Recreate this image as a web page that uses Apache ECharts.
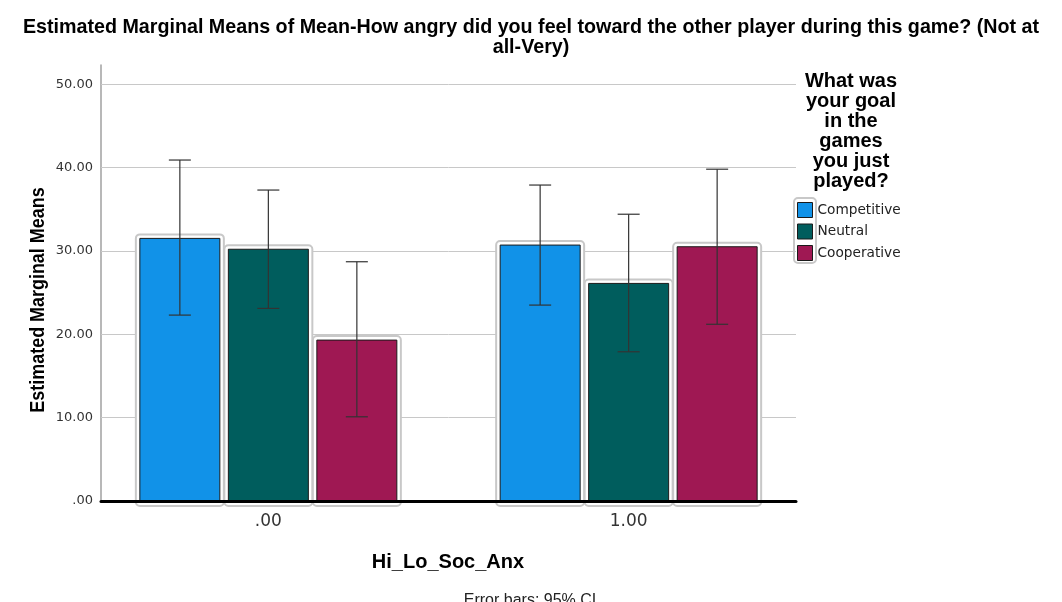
<!DOCTYPE html>
<html><head><meta charset="utf-8">
<script src="https://cdn.jsdelivr.net/npm/echarts@6/dist/echarts.min.js"></script>
<style>html,body{margin:0;padding:0;background:#fff}#c{width:1062px;height:602px}</style>
</head><body><div id="c"></div>
<script>
const categories = ['.00', '1.00'];
const seriesNames = ['Competitive', 'Neutral', 'Cooperative'];
const colors = ['#1192e8', '#005d5d', '#9f1853'];
const means = [[31.5, 30.7], [30.2, 26.1], [19.3, 30.5]];
const lower = [[22.3, 23.5], [23.1, 17.9], [10.1, 21.2]];
const upper = [[40.9, 37.9], [37.3, 34.4], [28.7, 39.8]];
const yTicks = [0, 10, 20, 30, 40, 50];

const chart = echarts.init(document.getElementById('c'));
const font = 'Liberation Sans, Arial, sans-serif';
const dejavu = 'DejaVu Sans, sans-serif';
const BAR_W = 80, STEP = 88.5;

function makeSeries(s) {
  return {
    type: 'custom',
    name: seriesNames[s],
    z: 3,
    itemStyle: { color: colors[s] },
    encode: { x: 0, y: 1 },
    data: categories.map((c, i) => [i, means[s][i], lower[s][i], upper[s][i]]),
    renderItem: function (params, api) {
      const x = api.value(0);
      const top = api.coord([x, api.value(1)]);
      const base = api.coord([x, 0]);
      const lo = api.coord([x, api.value(2)]);
      const hi = api.coord([x, api.value(3)]);
      const cx = top[0] + (s - 1) * STEP;
      const x0 = cx - BAR_W / 2;
      return {
        type: 'group',
        children: [
          { type: 'rect', shape: { x: x0 - 4, y: top[1] - 4, width: BAR_W + 8, height: base[1] - top[1] + 9, r: 4 },
            style: { fill: '#fff', stroke: '#c8c8c8', lineWidth: 2 } },
          { type: 'rect', shape: { x: x0, y: top[1], width: BAR_W, height: base[1] - top[1] },
            style: { fill: colors[s], stroke: '#1a1a1a', lineWidth: 1 } },
          { type: 'line', shape: { x1: cx, y1: hi[1], x2: cx, y2: lo[1] }, style: { stroke: '#333', lineWidth: 1.2 } },
          { type: 'line', shape: { x1: cx - 11, y1: hi[1], x2: cx + 11, y2: hi[1] }, style: { stroke: '#333', lineWidth: 1.2 } },
          { type: 'line', shape: { x1: cx - 11, y1: lo[1], x2: cx + 11, y2: lo[1] }, style: { stroke: '#333', lineWidth: 1.2 } }
        ]
      };
    }
  };
}

const gridSeries = {
  type: 'line', name: 'grid', data: [], z: 1, silent: true,
  markLine: {
    silent: true, symbol: 'none', label: { show: false }, z: 1,
    lineStyle: { color: '#c8c8c8', width: 1, type: 'solid' },
    data: yTicks.filter(v => v > 0).map(v => ({ yAxis: v }))
  }
};

const option = {
  backgroundColor: '#fff',
  animation: false,
  title: [
    { text: 'Estimated Marginal Means of Mean-How angry did you feel toward the other player during this game? (Not at\nall-Very)',
      left: 531, top: 18, textAlign: 'center', padding: 0,
      textStyle: { fontFamily: font, fontSize: 19.7, fontWeight: 'bold', color: '#000', lineHeight: 20 } },
    { text: 'What was\nyour goal\nin the\ngames\nyou just\nplayed?', left: 851, top: 71, textAlign: 'center', padding: 0,
      textStyle: { fontFamily: font, fontSize: 20, fontWeight: 'bold', color: '#000', lineHeight: 20 } },
    { text: 'Hi_Lo_Soc_Anx', left: 448, top: 552, textAlign: 'center', padding: 0,
      textStyle: { fontFamily: font, fontSize: 20, fontWeight: 'bold', color: '#000' } },
    { text: 'Error bars: 95% CI', left: 530, top: 593, textAlign: 'center', padding: 0,
      textStyle: { fontFamily: font, fontSize: 16, fontWeight: 'normal', color: '#222' } }
  ],
  legend: {
    orient: 'vertical', left: 797, top: 202, itemWidth: 15, itemHeight: 15, itemGap: 5.5, padding: 0,
    icon: 'rect',
    itemStyle: { borderColor: '#1a1a1a', borderWidth: 1 },
    textStyle: { fontFamily: dejavu, fontSize: 13.7, color: '#222' },
    data: seriesNames
  },
  graphic: [
    { type: 'rect', shape: { x: 794, y: 198, width: 22, height: 65, r: 4 }, style: { fill: 'none', stroke: '#c8c8c8', lineWidth: 2 }, z: -1 },
    { type: 'text', x: 39, y: 300, rotation: Math.PI / 2, scaleX: 0.92,
      style: { text: 'Estimated Marginal Means', fontFamily: font, fontSize: 19.5, fontWeight: 'bold', fill: '#000', align: 'center', verticalAlign: 'middle' } }
  ],
  grid: { left: 101, right: 266, top: 65, bottom: 101 },
  xAxis: {
    type: 'value', min: -0.4645, max: 1.4645,
    z: 10,
    axisLine: { show: true, onZero: true, lineStyle: { color: '#000', width: 3 } },
    axisTick: { show: false },
    splitLine: { show: false },
    axisLabel: { customValues: [0, 1], formatter: v => categories[Math.round(v)], fontFamily: dejavu, fontSize: 17, color: '#333', margin: 12 }
  },
  yAxis: {
    type: 'value', min: 0, max: 52.3,
    axisLine: { show: true, onZero: false, lineStyle: { color: '#a0a0a0', width: 1.5 } },
    axisTick: { show: false },
    splitLine: { show: false },
    axisLabel: { customValues: yTicks, formatter: v => (v === 0 ? '.00' : v.toFixed(2)), fontFamily: dejavu, fontSize: 13, color: '#333', margin: 8 }
  },
  series: [gridSeries].concat([0, 1, 2].map(makeSeries))
};
chart.setOption(option);
</script></body></html>
